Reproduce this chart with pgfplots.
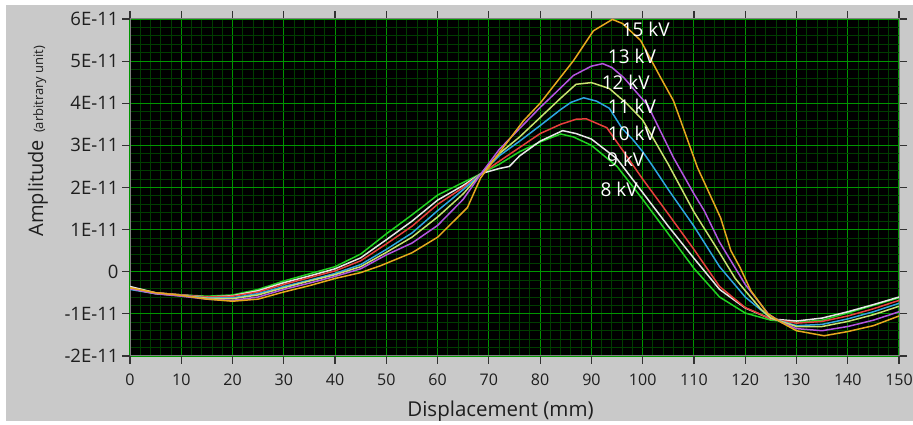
\documentclass[border=0pt]{standalone}
\usepackage{fontspec}
\setmainfont{Open Sans}
\usepackage{pgfplots}
\pgfplotsset{compat=1.18}
\definecolor{panel}{RGB}{201,201,201}
\definecolor{gridmaj}{RGB}{0,150,0}
\definecolor{gridmin}{RGB}{0,62,0}
\definecolor{tickc}{RGB}{50,50,50}
\definecolor{labelc}{RGB}{30,30,30}
\definecolor{kvxv}{RGB}{230,168,30}
\definecolor{kvxiii}{RGB}{180,85,225}
\definecolor{kvxii}{RGB}{200,225,110}
\definecolor{kvxi}{RGB}{45,165,225}
\definecolor{kvx}{RGB}{232,64,60}
\definecolor{kvix}{RGB}{232,232,232}
\definecolor{kviii}{RGB}{34,210,34}
\begin{document}
\begin{tikzpicture}[x=1pt,y=1pt]
\fill[white] (0,0) rectangle (913,425);
\fill[panel] (6,4) rectangle (913,420);
\useasboundingbox (0,0) rectangle (913,425);
\begin{axis}[
  at={(130pt,69pt)}, anchor=south west,
  scale only axis, width=769pt, height=337pt,
  xmin=0, xmax=150, ymin=-2, ymax=6,
  axis background/.style={fill=black},
  xtick={0,10,...,150}, ytick={-2,-1,0,1,2,3,4,5,6},
  yticklabels={-2E-11,-1E-11,0,1E-11,2E-11,3E-11,4E-11,5E-11,6E-11},
  minor x tick num=4, minor y tick num=4,
  grid=both,
  major grid style={draw=gridmaj, line width=1.1pt},
  minor grid style={draw=gridmin, line width=0.9pt},
  tick align=outside, major tick length=8pt, minor tick length=0pt,
  tick style={draw=tickc, line width=1.2pt},
  axis line style={draw=gray, line width=1pt},
  /pgf/number format/assume math mode=true,
  yticklabel style={font=\fontsize{18.5}{18.5}\selectfont, text=labelc},
  xticklabel style={font=\fontsize{16}{16}\selectfont, text=labelc, yshift=-6pt, inner xsep=0pt},
  xlabel={Displacement (mm)},
  xlabel style={at={(axis description cs:0.4818,0)}, anchor=center, yshift=-55pt,
    font=\fontsize{20.5}{20.5}\selectfont, text=labelc},
  ylabel={Amplitude\hspace{7pt}{\fontsize{13}{13}\selectfont (arbitrary unit)}},
  ylabel style={at={(axis description cs:-0.1196,0.638)}, anchor=center,
    font=\fontsize{20}{20}\selectfont, text=labelc},
  every axis plot/.append style={line width=1.5pt},
  clip=true,
]
% 8 kV
\addplot[kviii] coordinates {(0,-0.38)(5,-0.5)(10,-0.55)(15,-0.58)(20,-0.55)(25,-0.42)(30,-0.22)(35,-0.05)(40,0.12)(45,0.42)(50,0.9)(55,1.35)(60,1.82)(65,2.12)(68.5,2.33)(72,2.55)(76,2.85)(80,3.08)(84,3.27)(86.5,3.2)(90,3.0)(95,2.5)(100,1.72)(105,0.9)(110,0.08)(115,-0.6)(120,-0.98)(125,-1.15)(130,-1.2)(135,-1.15)(140,-0.98)(145,-0.8)(150,-0.62)};
% 9 kV
\addplot[kvix] coordinates {(0,-0.35)(5,-0.5)(10,-0.55)(15,-0.6)(20,-0.57)(25,-0.45)(30,-0.26)(35,-0.1)(40,0.07)(45,0.33)(50,0.76)(55,1.2)(60,1.7)(65,2.05)(68.5,2.33)(72,2.45)(74,2.5)(76,2.75)(80,3.1)(84.4,3.35)(87,3.28)(90,3.15)(95,2.68)(100,1.88)(105,1.08)(110,0.32)(115,-0.42)(120,-0.86)(125,-1.12)(130,-1.17)(135,-1.1)(140,-0.95)(145,-0.78)(150,-0.6)};
% 10 kV
\addplot[kvx] coordinates {(0,-0.4)(5,-0.5)(10,-0.55)(15,-0.6)(20,-0.58)(25,-0.48)(30,-0.3)(35,-0.14)(40,0.02)(45,0.26)(50,0.66)(55,1.08)(60,1.6)(65,2.0)(68.5,2.33)(72,2.62)(76,2.95)(80,3.28)(84,3.5)(87,3.62)(89,3.63)(93,3.42)(96,2.9)(100,2.2)(105,1.37)(110,0.53)(115,-0.35)(120,-0.85)(125,-1.12)(130,-1.22)(135,-1.18)(140,-1.05)(145,-0.88)(150,-0.68)};
% 11 kV
\addplot[kvxi] coordinates {(0,-0.42)(5,-0.52)(10,-0.56)(15,-0.62)(20,-0.62)(25,-0.52)(30,-0.35)(35,-0.2)(40,-0.04)(45,0.17)(50,0.53)(55,0.92)(60,1.45)(65,1.95)(68.5,2.33)(72,2.75)(76,3.1)(80,3.47)(84,3.85)(86,4.02)(88.5,4.13)(91,4.05)(93.5,3.88)(96,3.4)(98,3.15)(100,2.85)(102,2.5)(105,1.95)(110,1.08)(115,0.12)(120,-0.6)(125,-1.1)(130,-1.28)(135,-1.25)(140,-1.12)(145,-0.95)(150,-0.75)};
% 12 kV
\addplot[kvxii] coordinates {(0,-0.4)(5,-0.52)(10,-0.57)(15,-0.63)(20,-0.64)(25,-0.55)(30,-0.38)(35,-0.22)(40,-0.07)(45,0.12)(50,0.46)(55,0.82)(60,1.3)(65,1.85)(68.5,2.33)(72,2.8)(76,3.2)(80,3.66)(84,4.12)(87,4.45)(90,4.49)(93.5,4.35)(97,3.98)(100,3.6)(105,2.55)(110,1.42)(115,0.45)(118,-0.15)(120,-0.45)(123,-0.88)(125,-1.1)(130,-1.3)(135,-1.3)(140,-1.18)(145,-1.02)(150,-0.82)};
% 13 kV
\addplot[kvxiii] coordinates {(0,-0.4)(5,-0.52)(10,-0.58)(15,-0.65)(20,-0.68)(25,-0.6)(30,-0.42)(35,-0.27)(40,-0.11)(45,0.07)(50,0.4)(55,0.68)(60,1.1)(65,1.72)(68.5,2.33)(72,2.9)(76,3.4)(80,3.9)(82,4.13)(86.5,4.66)(90,4.88)(92.2,4.94)(94,4.85)(96.3,4.61)(101,3.95)(106,2.71)(110,1.85)(112,1.45)(115,0.7)(120,-0.3)(124.5,-1.0)(127,-1.2)(130,-1.35)(135,-1.4)(140,-1.3)(145,-1.15)(150,-0.95)};
% 15 kV
\addplot[kvxv] coordinates {(0,-0.38)(5,-0.5)(10,-0.56)(15,-0.65)(20,-0.7)(25,-0.65)(30,-0.48)(35,-0.33)(40,-0.16)(45,-0.02)(48.8,0.14)(55,0.45)(60,0.82)(65.8,1.52)(68.4,2.23)(72.3,2.87)(76.8,3.59)(80,4.0)(86.5,5.01)(90.4,5.72)(94.1,5.99)(96.1,5.89)(99.6,5.49)(103.5,4.61)(106,4.06)(107.4,3.59)(110.7,2.47)(115.2,1.28)(117.2,0.5)(119,0.1)(121.1,-0.45)(124.4,-1.0)(127,-1.2)(130,-1.4)(135.4,-1.52)(140,-1.42)(145,-1.28)(150,-1.05)};
\begin{scope}[every node/.style={text=white, font=\fontsize{19}{19}\selectfont, anchor=center, inner sep=0pt}]
\node at (axis cs:100.6,5.75) {15 kV};
\node at (axis cs:97.9,5.11) {13 kV};
\node at (axis cs:96.7,4.49) {12 kV};
\node at (axis cs:97.9,3.92) {11 kV};
\node at (axis cs:97.9,3.28) {10 kV};
\node at (axis cs:96.7,2.66) {9 kV};
\node at (axis cs:95.4,1.95) {8 kV};
\end{scope}
\end{axis}
\end{tikzpicture}
\end{document}
